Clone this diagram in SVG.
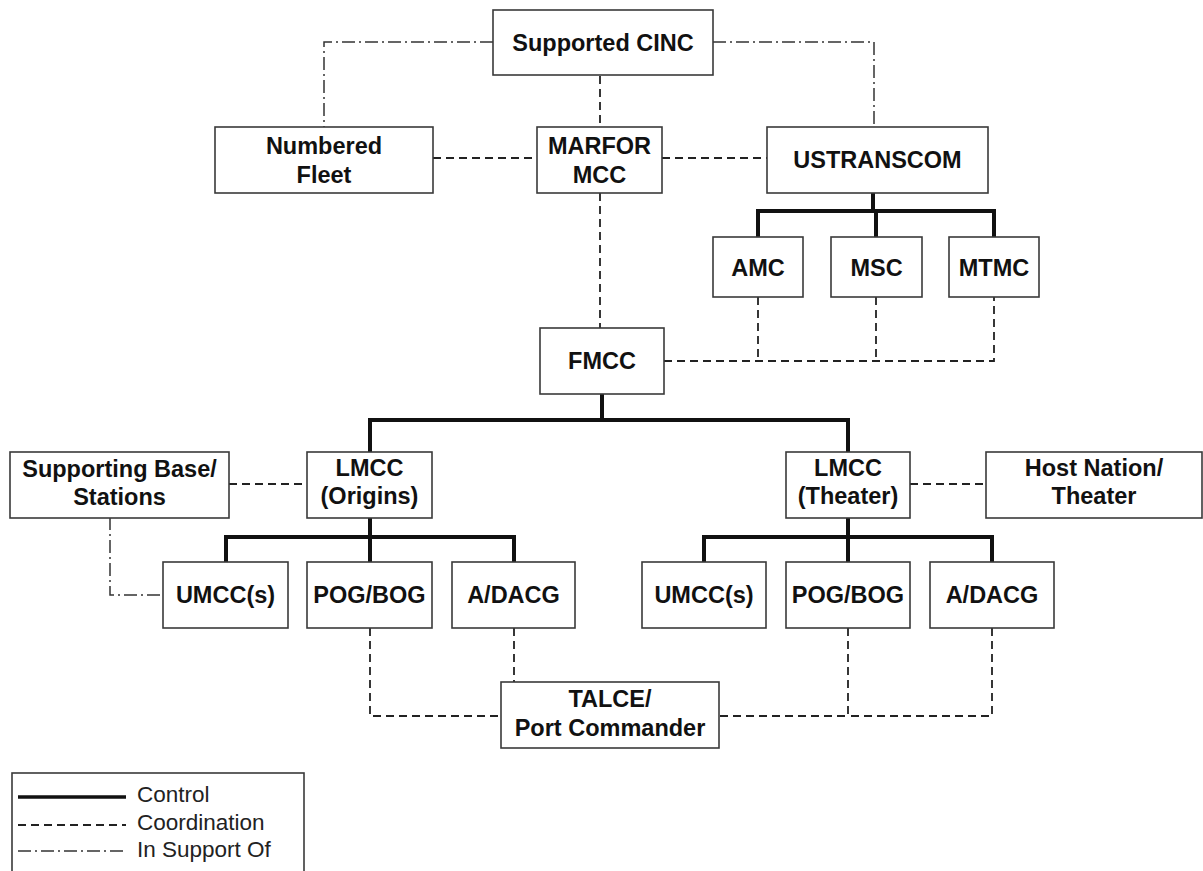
<svg xmlns="http://www.w3.org/2000/svg" width="1203" height="871" viewBox="0 0 1203 871">
<style>
.box{fill:#fff;stroke:#3a3a3a;stroke-width:1.6}
.t{font-family:"Liberation Sans",Arial,Helvetica,sans-serif;font-weight:bold;font-size:23.5px;fill:#111;text-anchor:middle}
.lt{font-family:"Liberation Sans",Arial,Helvetica,sans-serif;font-size:22.5px;fill:#222}
.ctl{fill:none;stroke:#111;stroke-width:4;stroke-linejoin:miter;stroke-linecap:square}
.crd{fill:none;stroke:#222;stroke-width:1.8;stroke-dasharray:8 5}
.sup{fill:none;stroke:#333;stroke-width:1.5;stroke-dasharray:13 4 2 4}
</style>
<rect width="1203" height="871" fill="#fff"/>
<g id="connectors">
<path class="ctl" d="M873 193V211M758 237V211H994V237M876 211V237"/>
<path class="ctl" d="M602 394V420M370 451V420H848V451"/>
<path class="ctl" d="M370 519V537M226 561V537H514V561M370 537V561"/>
<path class="ctl" d="M848 519V537M704 561V537H992V561M848 537V561"/>
<path class="crd" d="M600 76V127M600 193V328M433 158H537M662 158H767"/>
<path class="crd" d="M664 361H994V297M758 297V361M876 297V361"/>
<path class="crd" d="M229 484H307M910 484H986"/>
<path class="crd" d="M370 628V716H501M514 628V682M848 628V716H719M992 628V716H848"/>
<path class="sup" d="M493 42H324V127M713 42H874V127M110 517V595H163"/>
</g>
<g id="cinc"><rect class="box" x="493" y="10" width="220" height="65"/><text class="t" x="603" y="51">Supported CINC</text></g>
<g id="fleet"><rect class="box" x="215" y="127" width="218" height="66"/><text class="t" x="324" y="154">Numbered</text><text class="t" x="324" y="183">Fleet</text></g>
<g id="marfor"><rect class="box" x="537" y="127" width="125" height="66"/><text class="t" x="599.5" y="154">MARFOR</text><text class="t" x="599.5" y="183">MCC</text></g>
<g id="ustranscom"><rect class="box" x="767" y="127" width="221" height="66"/><text class="t" x="877.5" y="168">USTRANSCOM</text></g>
<g id="amc"><rect class="box" x="713" y="237" width="90" height="60"/><text class="t" x="758" y="276">AMC</text></g>
<g id="msc"><rect class="box" x="831" y="237" width="91" height="60"/><text class="t" x="876.5" y="276">MSC</text></g>
<g id="mtmc"><rect class="box" x="949" y="237" width="90" height="60"/><text class="t" x="994" y="276">MTMC</text></g>
<g id="fmcc"><rect class="box" x="540" y="328" width="124" height="66"/><text class="t" x="602" y="369">FMCC</text></g>
<g id="supporting"><rect class="box" x="10" y="452" width="219" height="66"/><text class="t" x="119.5" y="477">Supporting Base/</text><text class="t" x="119.5" y="505">Stations</text></g>
<g id="lmcc-origins"><rect class="box" x="307" y="452" width="125" height="66"/><text class="t" x="369.5" y="476">LMCC</text><text class="t" x="369.5" y="504">(Origins)</text></g>
<g id="lmcc-theater"><rect class="box" x="786" y="452" width="124" height="66"/><text class="t" x="848" y="476">LMCC</text><text class="t" x="848" y="504">(Theater)</text></g>
<g id="host"><rect class="box" x="986" y="452" width="216" height="66"/><text class="t" x="1094" y="476">Host Nation/</text><text class="t" x="1094" y="504">Theater</text></g>
<g id="umcc-origins"><rect class="box" x="163" y="562" width="125" height="66"/><text class="t" x="225.5" y="603">UMCC(s)</text></g>
<g id="pog-origins"><rect class="box" x="307" y="562" width="125" height="66"/><text class="t" x="369.5" y="603">POG/BOG</text></g>
<g id="adacg-origins"><rect class="box" x="452" y="562" width="123" height="66"/><text class="t" x="513.5" y="603">A/DACG</text></g>
<g id="umcc-theater"><rect class="box" x="642" y="562" width="124" height="66"/><text class="t" x="704" y="603">UMCC(s)</text></g>
<g id="pog-theater"><rect class="box" x="786" y="562" width="124" height="66"/><text class="t" x="848" y="603">POG/BOG</text></g>
<g id="adacg-theater"><rect class="box" x="930" y="562" width="124" height="66"/><text class="t" x="992" y="603">A/DACG</text></g>
<g id="talce"><rect class="box" x="501" y="682" width="218" height="66"/><text class="t" x="610" y="707">TALCE/</text><text class="t" x="610" y="736">Port Commander</text></g>
<g id="legend">
<rect class="box" x="12" y="773" width="292" height="110"/>
<line x1="18" y1="797" x2="126" y2="797" stroke="#111" stroke-width="3.5"/>
<line x1="18" y1="825" x2="126" y2="825" class="crd"/>
<line x1="18" y1="851" x2="126" y2="851" class="sup"/>
<text class="lt" x="137" y="802">Control</text>
<text class="lt" x="137" y="830">Coordination</text>
<text class="lt" x="137" y="857">In Support Of</text>
</g>
</svg>
